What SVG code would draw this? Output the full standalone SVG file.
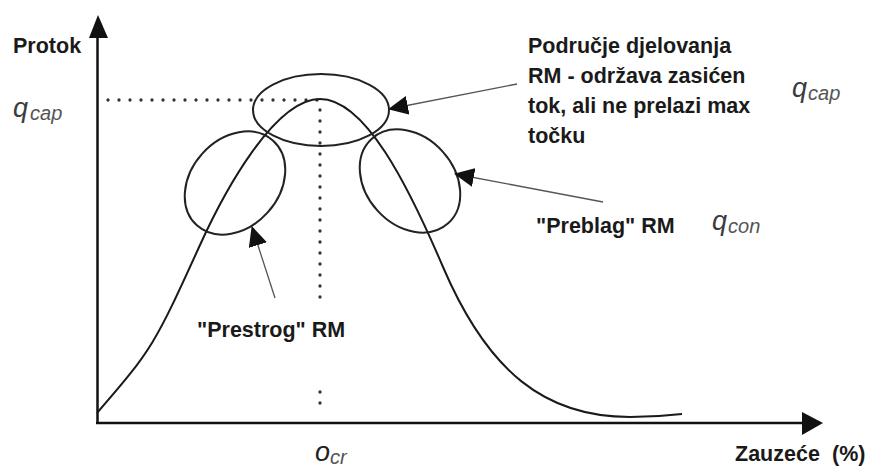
<svg xmlns="http://www.w3.org/2000/svg" width="871" height="468" viewBox="0 0 871 468">
<style>
.lbl{font-family:"Liberation Sans",Arial,sans-serif;font-weight:bold;font-size:21.5px;fill:#1a1a1a}
.q{font-family:"Liberation Sans",Arial,sans-serif;font-style:italic;font-size:27px;fill:#3c3c3c}
.sub{font-size:20px;fill:#555}
.axis{stroke:#111;stroke-width:2.5;fill:none}
.curve{stroke:#1a1a1a;stroke-width:2;fill:none}
.ell{stroke:#222;stroke-width:2;fill:none}
.dots{stroke:#333;stroke-width:3.3;stroke-linecap:round;stroke-dasharray:0 11;fill:none}
.conn{stroke:#555;stroke-width:1.3;fill:none;marker-end:url(#head)}
</style>
<defs>
<marker id="head" markerUnits="userSpaceOnUse" viewBox="0 0 20 19" markerWidth="20" markerHeight="19" refX="19" refY="9.5" orient="auto">
<path d="M0,0 L20,9.5 L0,19 z" fill="#111"/>
</marker>
</defs>
<rect width="871" height="468" fill="#fff"/>
<g id="axes">
<line class="axis" x1="97.5" y1="424" x2="97.5" y2="36"/>
<polygon points="98,15 89,38 108,38" fill="#111"/>
<line class="axis" x1="96" y1="423" x2="804" y2="423"/>
<polygon points="823,423 802,412 802,435" fill="#111"/>
</g>
<g id="guides">
<path class="dots" d="M108,100 L318,100"/>
<path class="dots" d="M320,110 L320,308"/>
<path class="dots" d="M320,392 L320,414"/>
</g>
<g id="curve">
<path class="curve" d="M97,413 C152,349.75 155,344 200,245 C225,190 275,99 320,99 C365,99 408,185 443,267 C488,372 545,417 630,417 C650,417 665,416 682,414"/>
</g>
<g id="region-top">
<ellipse class="ell" cx="321" cy="110" rx="68" ry="36"/>
</g>
<g id="region-left">
<ellipse class="ell" cx="235" cy="183" rx="57" ry="44" transform="rotate(-48 235 183)"/>
</g>
<g id="region-right">
<ellipse class="ell" cx="410" cy="181" rx="57" ry="44" transform="rotate(48 410 181)"/>
</g>
<g id="connectors">
<line class="conn" x1="517" y1="84" x2="389" y2="109"/>
<line class="conn" x1="603" y1="202" x2="455" y2="174"/>
<line class="conn" x1="275" y1="298" x2="252" y2="227"/>
</g>
<g id="label-protok"><text class="lbl" x="13" y="53">Protok</text></g>
<g id="label-qcap-left"><text class="q" x="13" y="117">q<tspan class="sub" dx="2" dy="3">cap</tspan></text></g>
<g id="label-qcap-right"><text class="q" x="792" y="97">q<tspan class="sub" dx="1" dy="3">cap</tspan></text></g>
<g id="label-qcon"><text class="q" x="712" y="230">q<tspan class="sub" dx="1" dy="3">con</tspan></text></g>
<g id="label-ocr"><text class="q" x="315" y="461" style="fill:#222">o<tspan class="sub" dy="3">cr</tspan></text></g>
<g id="label-podrucje">
<text class="lbl" x="528" y="53">Područje djelovanja</text>
<text class="lbl" x="528" y="83">RM - održava zasićen</text>
<text class="lbl" x="528" y="113">tok, ali ne prelazi max</text>
<text class="lbl" x="528" y="143">točku</text>
</g>
<g id="label-preblag"><text class="lbl" x="536" y="233">"Preblag" RM</text></g>
<g id="label-prestrog"><text class="lbl" x="197" y="337">"Prestrog" RM</text></g>
<g id="label-zauzece"><text class="lbl" x="735" y="461">Zauzeće<tspan x="832">(%)</tspan></text></g>
</svg>
